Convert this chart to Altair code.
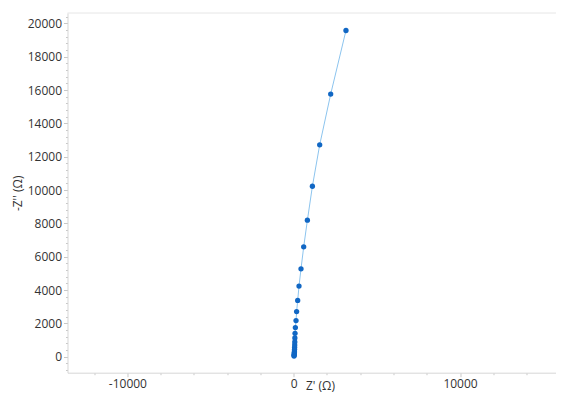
import altair as alt
import pandas as pd

# Nyquist data (ohm), from high frequency (origin) outward
z_real = [20, 25, 30, 35, 40, 45, 50, 55, 60, 65, 70, 80, 100, 140, 175, 240,
          319, 439, 601, 823, 1124, 1563, 2224, 3143]
z_imag = [42, 84, 132, 192, 264, 341, 443, 563, 701, 881, 1120, 1402, 1749,
          2168, 2707, 3378, 4235, 5271, 6589, 8188, 10225, 12711, 15754, 19570]

x_ticks = list(range(-12000, 15001, 2000))
y_ticks = list(range(-800, 20401, 400))

df = pd.DataFrame({"zr": z_real, "zi": z_imag, "i": list(range(len(z_real)))})

FONT = "Open Sans"
TXT = "#333333"
W, H = 488.5, 359.7

x_axis = alt.Axis(
    values=x_ticks, grid=False, title="Z' (Ω)",
    labelExpr="datum.value % 10000 === 0 ? toString(datum.value) : ''",
    tickSize={"condition": {"test": "datum.value % 10000 === 0", "value": 4}, "value": 2},
    tickColor="#c8c8c8", domainColor="#d6d6d6",
    labelFont=FONT, labelFontSize=12, labelColor=TXT, labelPadding=2,
    titleFont=FONT, titleFontSize=12, titleFontWeight="normal", titleColor=TXT,
    titleX=252.5, titleY=7.5, titleBaseline="top", titleAlign="center",
    labelFlush=False, labelOverlap=False,
)
y_axis = alt.Axis(
    values=y_ticks, grid=False, title="-Z'' (Ω)",
    labelExpr="datum.value % 2000 === 0 ? toString(datum.value) : ''",
    tickSize={"condition": {"test": "datum.value % 2000 === 0", "value": 4}, "value": 2},
    tickColor="#c8c8c8", domainColor="#d6d6d6",
    labelFont=FONT, labelFontSize=12, labelColor=TXT, labelPadding=2,
    titleFont=FONT, titleFontSize=12, titleFontWeight="normal", titleColor=TXT,
    titlePadding=3, labelFlush=False, labelOverlap=False,
)

x_enc = alt.X("zr:Q", scale=alt.Scale(domain=[-13600, 15770], nice=False, zero=False), axis=x_axis)
y_enc = alt.Y("zi:Q", scale=alt.Scale(domain=[-960, 20620], nice=False, zero=False), axis=y_axis)

base = alt.Chart(df)
frame_top = alt.Chart(alt.Data(values=[{}])).mark_rule(color="#e6e6e6", strokeWidth=1).encode(
    x=alt.value(0), x2=alt.value(W), y=alt.value(0)
)
line = base.mark_line(color="#8cc4ee", strokeWidth=1).encode(x=x_enc, y=y_enc, order="i:Q")
pts = base.mark_circle(color="#1167c4", opacity=1, size=28).encode(x=x_enc, y=y_enc)

chart = (frame_top + line + pts).properties(
    width=W, height=H,
    padding={"left": 59.5, "top": 5, "right": 0, "bottom": 22},
    autosize="none",
).configure_view(strokeOpacity=0)

chart.save("out.html", embed_options={"renderer": "svg", "actions": False})
